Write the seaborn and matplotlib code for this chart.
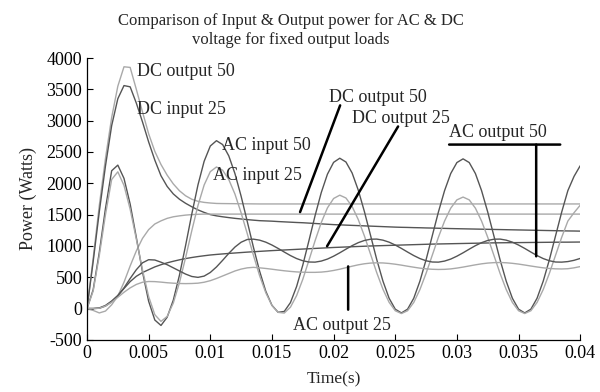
import numpy as np
import pandas as pd
import matplotlib
matplotlib.use("Agg")
import matplotlib.pyplot as plt
import seaborn as sns

# -----------------------------
# DATA (one sample every 0.5 ms)
# -----------------------------
time_s = np.linspace(0, 0.04, 81)

dc_output_50_peak = [
    0, 800, 1650, 2400, 3050, 3550, 3860, 3850, 3500, 3140,
    2790, 2510, 2300, 2130, 1990, 1880, 1800, 1745, 1712, 1695,
    1685, 1678, 1676, 1675, 1674, 1673, 1672, 1671, 1670, 1670,
    1670, 1670, 1670, 1670, 1670, 1670, 1670, 1670, 1670, 1670,
    1670, 1670, 1670, 1670, 1670, 1670, 1670, 1670, 1670, 1670,
    1670, 1670, 1670, 1670, 1670, 1670, 1670, 1670, 1670, 1670,
    1670, 1670, 1670, 1670, 1670, 1670, 1670, 1670, 1670, 1670,
    1670, 1670, 1670, 1670, 1670, 1670, 1670, 1670, 1670, 1670,
    1670,
]

dc_input_25 = [
    0, 750, 1550, 2280, 2920, 3350, 3560, 3540, 3280, 2980,
    2660, 2370, 2120, 1950, 1830, 1745, 1680, 1625, 1575, 1535,
    1500, 1480, 1465, 1452, 1440, 1430, 1420, 1411, 1403, 1399,
    1395, 1389, 1384, 1379, 1374, 1370, 1364, 1358, 1352, 1346,
    1340, 1336, 1332, 1328, 1324, 1320, 1316, 1312, 1308, 1304,
    1300, 1297, 1295, 1292, 1290, 1287, 1285, 1282, 1280, 1277,
    1275, 1273, 1271, 1269, 1267, 1265, 1263, 1261, 1259, 1257,
    1255, 1253, 1251, 1249, 1247, 1245, 1243, 1241, 1239, 1238,
    1236,
]

dc_output_50 = [
    0, -30, -70, -40, 60, 200, 420, 680, 920, 1120,
    1260, 1350, 1400, 1440, 1465, 1480, 1492, 1500, 1505, 1508,
    1508, 1508, 1508, 1508, 1508, 1508, 1508, 1508, 1508, 1508,
    1508, 1508, 1508, 1508, 1508, 1508, 1508, 1508, 1508, 1508,
    1508, 1508, 1508, 1508, 1508, 1508, 1508, 1508, 1508, 1508,
    1508, 1508, 1508, 1508, 1508, 1508, 1508, 1508, 1508, 1508,
    1508, 1508, 1508, 1508, 1508, 1508, 1508, 1508, 1508, 1508,
    1508, 1508, 1508, 1508, 1508, 1508, 1508, 1508, 1508, 1508,
    1508,
]

dc_output_25 = [
    0, 0, 10, 50, 120, 210, 320, 430, 515, 575,
    620, 665, 700, 730, 755, 778, 798, 815, 830, 843,
    855, 864, 872, 880, 887, 894, 901, 907, 913, 919,
    925, 930, 935, 940, 945, 950, 955, 960, 965, 970,
    975, 979, 983, 987, 991, 995, 999, 1002, 1005, 1008,
    1011, 1014, 1017, 1020, 1023, 1026, 1029, 1031, 1033, 1035,
    1037, 1039, 1041, 1043, 1045, 1047, 1049, 1050, 1051, 1052,
    1053, 1054, 1055, 1056, 1057, 1058, 1059, 1060, 1060, 1061,
    1062,
]

ac_input_50 = [
    0, 300, 900, 1600, 2200, 2290, 2078, 1668, 1136, 586,
    116, -183, -270, -139, 135, 534, 1010, 1510, 1974, 2351,
    2595, 2680, 2618, 2437, 2154, 1793, 1388, 977, 596, 276,
    52, -60, -46, 95, 352, 693, 1084, 1485, 1852, 2145,
    2334, 2400, 2340, 2165, 1891, 1547, 1165, 782, 439, 165,
    -10, -70, -10, 164, 437, 779, 1160, 1541, 1883, 2156,
    2331, 2390, 2331, 2156, 1883, 1541, 1160, 779, 437, 164,
    -10, -70, -10, 164, 437, 779, 1160, 1541, 1883, 2110,
    2280,
]

ac_input_25 = [
    0, 280, 850, 1500, 2060, 2183, 1966, 1586, 1110, 618,
    191, -98, -205, -126, 88, 415, 816, 1244, 1645, 1972,
    2186, 2260, 2209, 2059, 1827, 1528, 1194, 849, 524, 252,
    49, -61, -72, 22, 207, 466, 771, 1084, 1373, 1607,
    1757, 1810, 1765, 1630, 1421, 1158, 865, 572, 309, 100,
    -35, -80, -35, 97, 303, 562, 850, 1138, 1397, 1603,
    1735, 1780, 1735, 1603, 1397, 1138, 850, 562, 303, 97,
    -35, -80, -35, 97, 303, 562, 850, 1138, 1397, 1530,
    1650,
]

ac_output_50 = [
    0, 0, 5, 40, 110, 200, 330, 480, 620, 730,
    780, 775, 740, 700, 650, 600, 550, 512, 498, 518,
    576, 664, 770, 881, 982, 1059, 1103, 1108, 1092, 1060,
    1014, 960, 902, 846, 798, 763, 743, 741, 758, 790,
    836, 890, 948, 1004, 1052, 1087, 1107, 1109, 1092, 1060,
    1014, 960, 902, 846, 798, 763, 743, 741, 758, 790,
    836, 890, 948, 1004, 1052, 1087, 1107, 1109, 1092, 1060,
    1014, 960, 902, 846, 798, 763, 743, 741, 750, 770,
    800,
]

ac_output_25 = [
    0, 0, 5, 40, 100, 180, 260, 330, 385, 420,
    432, 430, 422, 412, 405, 400, 398, 400, 405, 420,
    445, 480, 520, 560, 600, 630, 650, 658, 650, 640,
    628, 615, 603, 593, 585, 580, 578, 578, 582, 592,
    608, 628, 652, 676, 698, 715, 726, 730, 728, 720,
    708, 693, 676, 660, 645, 634, 627, 624, 626, 633,
    646, 662, 680, 698, 714, 726, 733, 735, 731, 722,
    710, 695, 679, 664, 650, 640, 634, 632, 636, 650,
    670,
]

DARK = "#555555"
LIGHT = "#a9a9a9"

series = {
    "DC output 50 (peak)": (dc_output_50_peak, LIGHT),
    "DC input 25": (dc_input_25, DARK),
    "DC output 50": (dc_output_50, LIGHT),
    "DC output 25": (dc_output_25, DARK),
    "AC input 50": (ac_input_50, DARK),
    "AC input 25": (ac_input_25, LIGHT),
    "AC output 50": (ac_output_50, DARK),
    "AC output 25": (ac_output_25, LIGHT),
}

# plain labels: (text, x, y)
plain_labels = [
    ("DC output 50", 0.00406, 3790),
    ("DC input 25", 0.00406, 3180),
    ("AC input 50", 0.01095, 2600),
    ("AC input 25", 0.01022, 2120),
]

# labels with leader lines: (text, text x, text y, line start, line end)
leader_labels = [
    ("DC output 50", 0.01963, 3375, (0.02053, 3244), (0.01728, 1540)),
    ("DC output 25", 0.02150, 3035, (0.02523, 2907), (0.01947, 995)),
    ("AC output 25", 0.01671, -275, (0.02118, -18), (0.02118, 673)),
    ("AC output 50", 0.02937, 2810, (0.03643, 2618), (0.03643, 834)),
]
underline_ac50 = ((0.02937, 2618), (0.03838, 2618))

# -----------------------------
# PLOT
# -----------------------------
sns.set_style("ticks")
plt.rcParams["font.family"] = ["Liberation Serif", "DejaVu Serif"]
plt.rcParams["xtick.direction"] = "in"
plt.rcParams["ytick.direction"] = "in"
plt.rcParams["axes.unicode_minus"] = False

df = pd.concat(
    [pd.DataFrame({"time": time_s, "power": vals, "series": name})
     for name, (vals, _) in series.items()],
    ignore_index=True,
)
palette = {name: col for name, (_, col) in series.items()}

fig = plt.figure(figsize=(6, 3.92), dpi=100)
ax = fig.add_axes([0.145, 0.133, 0.822, 0.719])

sns.lineplot(data=df, x="time", y="power", hue="series", palette=palette,
             estimator=None, sort=False, legend=False, linewidth=1.0, ax=ax)

ax.set_xlim(0, 0.04)
ax.set_ylim(-500, 4000)
ax.set_xticks([0, 0.005, 0.01, 0.015, 0.02, 0.025, 0.03, 0.035, 0.04])
ax.set_xticklabels(["0", "0.005", "0.01", "0.015", "0.02", "0.025", "0.03", "0.035", "0.04"])
ax.set_yticks(range(-500, 4001, 500))
ax.tick_params(labelsize=13, length=4, width=0.8, colors="black")
sns.despine(ax=ax)
for s in ["left", "bottom"]:
    ax.spines[s].set_linewidth(0.9)
    ax.spines[s].set_color("black")

ax.set_xlabel("Time(s)", fontsize=12.5, labelpad=7)
ax.set_ylabel("Power (Watts)", fontsize=13, labelpad=7)

fig.text(0.485, 0.921, "Comparison of Input & Output power for AC & DC\nvoltage for fixed output loads",
         ha="center", va="center", fontsize=12, linespacing=1.25)

for text, x, y in plain_labels:
    ax.text(x, y, text, fontsize=13, ha="left", va="center")

for text, x, y, p0, p1 in leader_labels:
    ax.text(x, y, text, fontsize=13, ha="left", va="center")
    ax.annotate("", xy=p1, xytext=p0,
                arrowprops=dict(arrowstyle="-", lw=1.8, color="black", shrinkA=0, shrinkB=0))
ax.annotate("", xy=underline_ac50[1], xytext=underline_ac50[0],
            arrowprops=dict(arrowstyle="-", lw=1.8, color="black", shrinkA=0, shrinkB=0))

fig.savefig("out.png", dpi=100)
